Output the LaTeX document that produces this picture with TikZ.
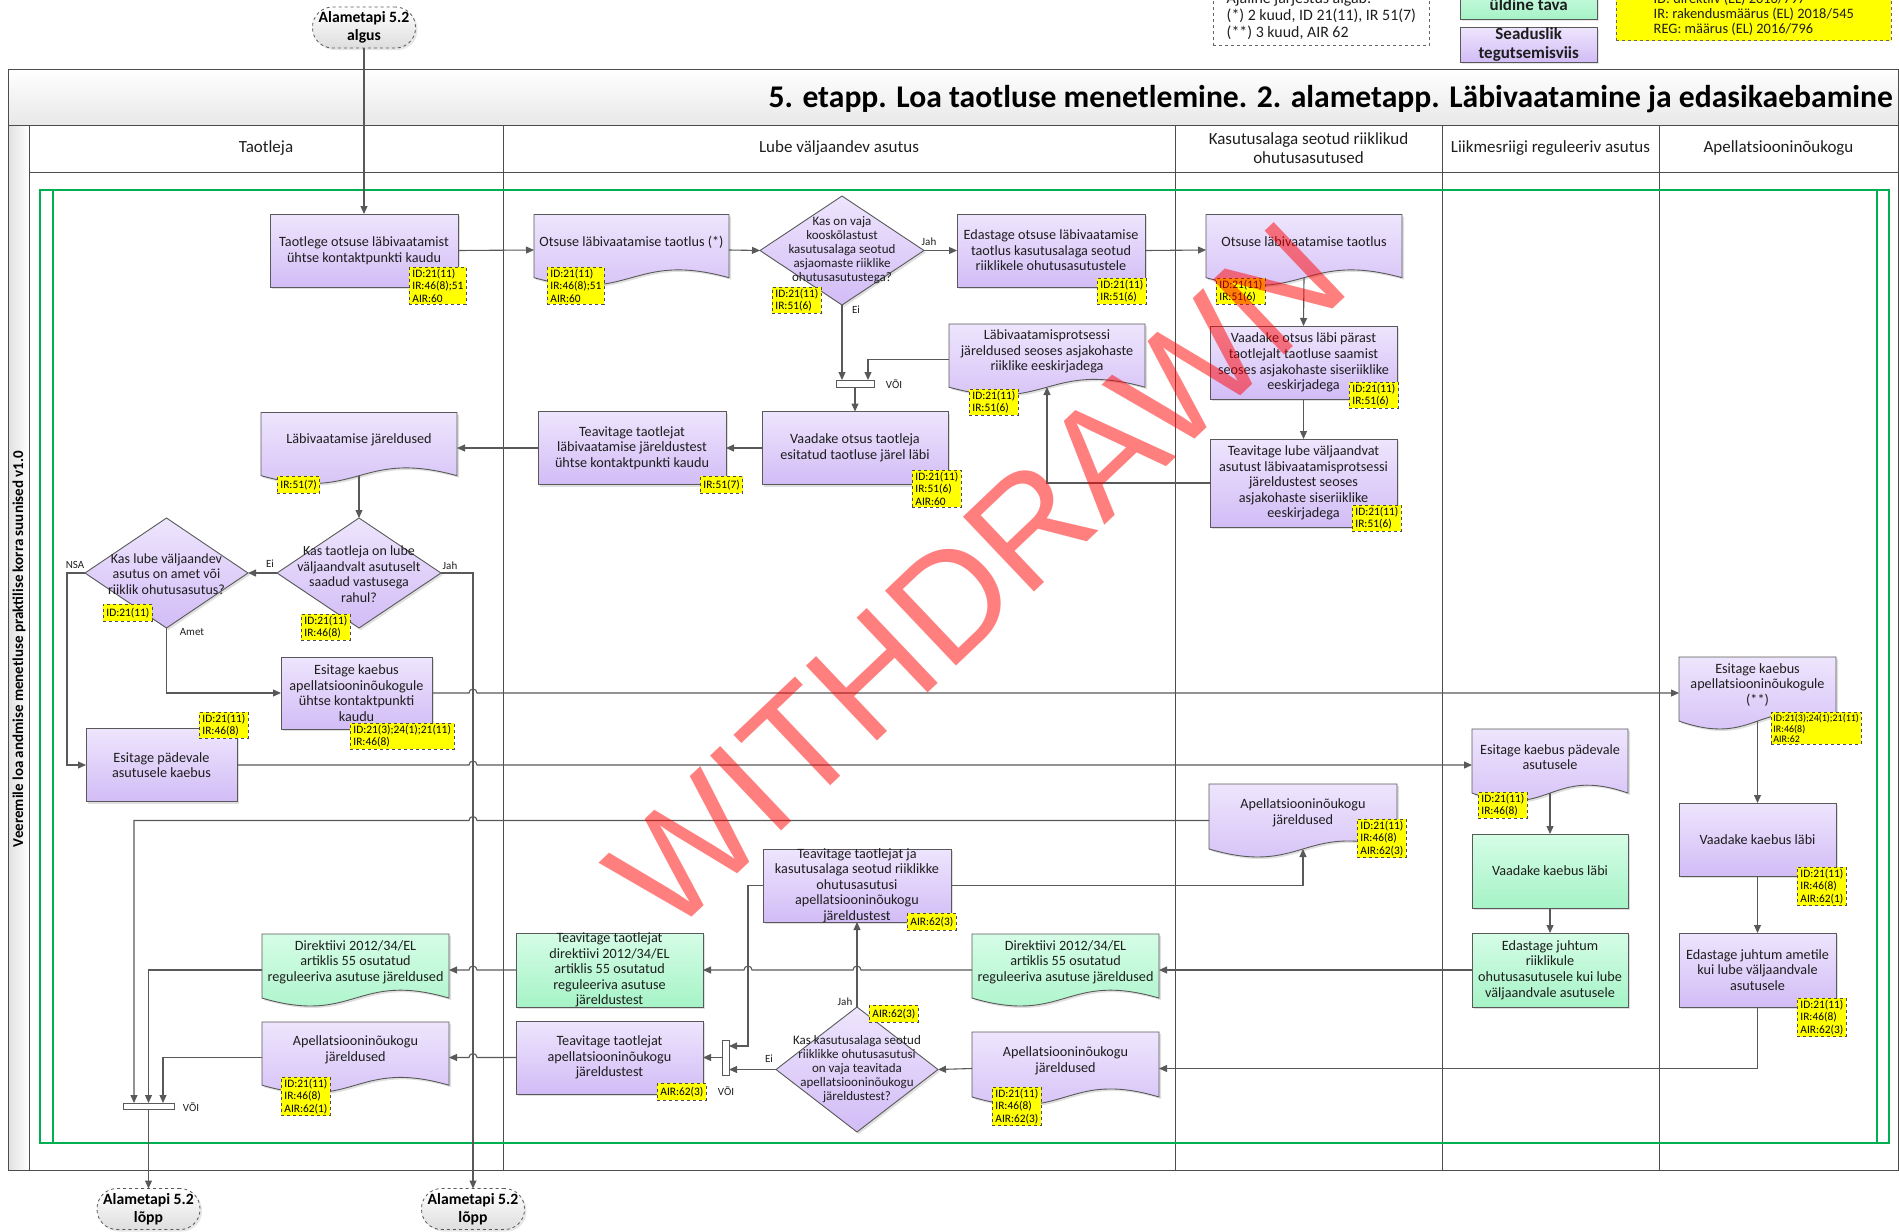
\documentclass[tikz,border=0pt]{standalone}
\usepackage{fontspec}
\setmainfont{Carlito}
\newfontfamily\wmfont{Liberation Sans}
\usetikzlibrary{arrows.meta,calc,shapes.geometric,shadows}
\pgfdeclarelayer{lanes}
\pgfdeclarelayer{shapes}
\pgfsetlayers{lanes,shapes,main}

\definecolor{linec}{HTML}{595959}
\definecolor{ptop}{HTML}{EEE5FD}
\definecolor{pbot}{HTML}{D2BCF6}
\definecolor{gtop}{HTML}{D5FDE6}
\definecolor{gbot}{HTML}{A6F3C7}
\definecolor{frameg}{HTML}{00B050}
\definecolor{tagy}{HTML}{FFFF00}
\definecolor{txt}{HTML}{1E1E1E}

\tikzset{
  base/.style={inner sep=1pt, outer sep=0pt, align=center, text=txt,
    font=\fontsize{14.2}{15.6}\selectfont},
  proc/.style={base, rectangle, inner xsep=0pt, inner ysep=-6pt, draw=linec, line width=0.9pt,
    top color=ptop, bottom color=pbot,
    drop shadow={shadow xshift=2pt, shadow yshift=-2pt, opacity=0.25}},
  procg/.style={proc, top color=gtop, bottom color=gbot},
  docarea/.style={inner sep=0pt, outer sep=0pt},
  docline/.style={draw=linec, line width=0.9pt,
    drop shadow={shadow xshift=2pt, shadow yshift=-2pt, opacity=0.25}},
  doctext/.style={base},
  decision/.style={diamond, draw=linec, line width=0.9pt, top color=ptop,
    bottom color=pbot, inner sep=0pt, outer sep=0pt,
    drop shadow={shadow xshift=2pt, shadow yshift=-2pt, opacity=0.25}},
  dectext/.style={base, font=\fontsize{14}{15.5}\selectfont},
  dectextsm/.style={base, font=\fontsize{13}{14}\selectfont},
  tag/.style={draw=black!70, dashed, line width=0.8pt, fill=tagy, text=black,
    font=\fontsize{11.4}{12.5}\selectfont, align=left, inner xsep=3pt,
    inner ysep=1.6pt, minimum height=17, anchor=north west},
  tagsm/.style={tag, font=\fontsize{10}{10.7}\selectfont, inner xsep=2pt},
  bar/.style={rectangle, draw=linec, fill=white, line width=0.9pt, inner sep=0pt, outer sep=0pt},
  lbl/.style={font=\fontsize{11}{12}\selectfont, inner sep=0pt, text=txt},
  term/.style={rectangle, rounded corners=20pt, draw=linec, dashed, line width=0.8pt,
    top color=white, bottom color=black!13, text=black,
    font=\bfseries\fontsize{15.7}{18}\selectfont, align=center,
    minimum width=103, minimum height=41, inner sep=0pt, outer sep=0pt,
    drop shadow={shadow xshift=2pt, shadow yshift=-2pt, opacity=0.2}},
  hdr/.style={font=\fontsize{17}{19}\selectfont, align=center, text=txt, inner sep=0pt},
  arr/.style={draw=linec, line width=1.1pt, -{Triangle[length=8pt,width=7pt]}},
  lane/.style={draw=black!70, line width=1pt},
  legbox/.style={draw=black!60, dashed, line width=0.7pt, align=left, text=txt,
    font=\fontsize{15.9}{17}\selectfont, inner xsep=4pt, inner ysep=3pt},
  legkey/.style={rectangle, draw=linec, minimum width=137, align=center, inner sep=0pt,
    font=\bfseries\fontsize{17}{19}\selectfont, text=txt,
    drop shadow={shadow xshift=2pt, shadow yshift=-2pt, opacity=0.2}},
}

% document symbol: name, x, y, width, height, text, colour prefix (p/g)
\newcommand\docnode[7]{%
  \node[docarea, minimum width=#4, minimum height=#5] (#1) at (#2,#3) {};
  \begin{pgfonlayer}{shapes}
  \path[docline, top color=#7top, bottom color=#7bot]
    let \p1=(#1.north west), \p2=(#1.south east), \n1={0.11*(\y1-\y2)} in
    (\x1,\y1) -- (\x2,\y1) -- (\x2,{\y2+\n1})
    .. controls ({0.5*(\x1+\x2)},{\y2+4.46*\n1}) and ({0.5*(\x1+\x2)},{\y2-2.46*\n1}) .. (\x1,{\y2+\n1}) -- cycle;
  \end{pgfonlayer}
  \node[doctext] (#1t) at ($(#1)+(0,-8)$) {#6};}

\begin{document}
\begin{tikzpicture}[x=1pt, y=-1pt]
\useasboundingbox (0,0) rectangle (1899,1232);

% ---------- swimlane frame ----------
\begin{pgfonlayer}{lanes}
  \path[top color=white, bottom color=black!9] (8,69) rectangle (1898,125);
  \path[left color=black!12, right color=white] (8,125) rectangle (29,1170);
  \draw[lane] (8,69) rectangle (1898,1170);
  \draw[lane] (8,125) -- (1898,125);
  \draw[lane] (29,125) -- (29,1170);
  \draw[lane] (29,172) -- (1898,172);
  \foreach \xx in {503,1175,1442,1659} \draw[lane] (\xx,125) -- (\xx,1170);
  \draw[frameg, line width=2.6pt] (40,190) rectangle (1889,1143);
  \draw[frameg, line width=2.6pt] (53,190) -- (53,1143);
  \draw[frameg, line width=2.6pt] (1877,190) -- (1877,1143);
\end{pgfonlayer}

\node[anchor=base east, font=\bfseries\fontsize{31.6}{34}\selectfont, inner sep=0pt] (title) at (1893,107)
  {5. etapp. Loa taotluse menetlemine. 2. alametapp. Läbivaatamine ja edasikaebamine};
\node[rotate=90, font=\bfseries\fontsize{15}{17}\selectfont, inner sep=0pt] (lanetitle) at (19,649)
  {Veeremile loa andmise menetluse praktilise korra suunised v1.0};

\node[hdr] (h1) at (266,148) {Taotleja};
\node[hdr] (h2) at (839,148) {Lube väljaandev asutus};
\node[hdr] (h3) at (1308.5,148.5) {Kasutusalaga seotud riiklikud\\ohutusasutused};
\node[hdr] (h4) at (1550.5,148) {Liikmesriigi reguleeriv asutus};
\node[hdr] (h5) at (1778.5,148) {Apellatsiooninõukogu};

% ---------- legend ----------
\node[legbox, anchor=south west, minimum width=216, inner ysep=5.5pt] (leg1) at (1213,46)
  {Ajaline järjestus algab:\\(*) 2 kuud, ID 21(11), IR 51(7)\\(**) 3 kuud, AIR 62};
\node[legkey, top color=gtop, bottom color=gbot, minimum height=36, anchor=south west] (leg2) at (1460,19) {\\üldine tava};
\node[legkey, top color=ptop, bottom color=pbot, minimum height=35, anchor=north west] (leg3) at (1460,27) {Seaduslik\\tegutsemisviis};
\node[legbox, fill=tagy, anchor=south west, minimum width=275, inner xsep=5pt, inner ysep=5.5pt,
  font=\fontsize{14.4}{15}\selectfont] (leg4) at (1616,41)
  {ID: direktiiv (EL) 2016/797\\IR: rakendusmäärus (EL) 2018/545\\REG: määrus (EL) 2016/796};

% ---------- terminals ----------
\node[term] (start) at (364,27.5) {Alametapi 5.2\\algus};
\node[term] (end1) at (148.5,1209) {Alametapi 5.2\\lõpp};
\node[term] (end2) at (473,1209) {Alametapi 5.2\\lõpp};

% ---------- Taotleja ----------
\node[proc, minimum width=188, minimum height=73] (b1) at (364,250.5) {Taotlege otsuse läbivaatamist\\ühtse kontaktpunkti kaudu};
\docnode{d2}{359}{448}{196}{71}{Läbivaatamise järeldused}{p}
\node[decision, minimum width=164, minimum height=110] (q3) at (359,573) {};
\node[dectext] (q3t) at (359,574) {Kas taotleja on lube\\väljaandvalt asutuselt\\saadud vastusega\\rahul?};
\node[decision, minimum width=163, minimum height=110] (q4) at (166.5,573) {};
\node[dectext] (q4t) at (166.5,574) {Kas lube väljaandev\\asutus on amet või\\riiklik ohutusasutus?};
\node[proc, minimum width=151, minimum height=72] (b5) at (356.5,693) {Esitage kaebus\\apellatsiooninõukogule\\ühtse kontaktpunkti\\kaudu};
\node[proc, minimum width=151, minimum height=73] (b6) at (161.5,765) {Esitage pädevale\\asutusele kaebus};
\docnode{d7}{355.5}{970}{187}{72}{Direktiivi 2012/34/EL\\artiklis 55 osutatud\\reguleeriva asutuse järeldused}{g}
\docnode{d8}{355.5}{1057.5}{187}{71}{Apellatsiooninõukogu\\järeldused}{p}
\node[bar, minimum width=51, minimum height=6] (v3) at (148.5,1106) {};

% ---------- Lube väljaandev asutus ----------
\docnode{d10}{631.5}{250}{195}{71}{Otsuse läbivaatamise taotlus (*)}{p}
\node[decision, minimum width=164, minimum height=109] (q11) at (842,250.5) {};
\node[dectextsm] (q11t) at (q11) {Kas on vaja\\kooskõlastust\\kasutusalaga seotud\\asjaomaste riiklike\\ohutusasutustega?};
\node[proc, minimum width=188, minimum height=73] (b13) at (1051,250.5) {Edastage otsuse läbivaatamise\\taotlus kasutusalaga seotud\\riiklikele ohutusasutustele};
\docnode{d14}{1047}{359.5}{196}{71}{Läbivaatamisprotsessi\\järeldused seoses asjakohaste\\riiklike eeskirjadega}{p}
\node[bar, minimum width=38, minimum height=7] (v1) at (855,383.5) {};
\node[proc, minimum width=186, minimum height=73] (b15) at (855,448) {Vaadake otsus taotleja\\esitatud taotluse järel läbi};
\node[proc, minimum width=188, minimum height=73] (b16) at (632,448) {Teavitage taotlejat\\läbivaatamise järeldustest\\ühtse kontaktpunkti kaudu};
\node[proc, minimum width=188, minimum height=73] (b17) at (857,885.5) {Teavitage taotlejat ja\\kasutusalaga seotud riiklikke\\ohutusasutusi\\apellatsiooninõukogu\\järeldustest};
\node[procg, minimum width=187, minimum height=74] (b21) at (609.5,970) {Teavitage taotlejat\\direktiivi 2012/34/EL\\artiklis 55 osutatud\\reguleeriva asutuse\\järeldustest};
\node[proc, minimum width=187, minimum height=73] (b20) at (609.5,1057.5) {Teavitage taotlejat\\apellatsiooninõukogu\\järeldustest};
\node[bar, minimum width=7, minimum height=35] (v2) at (725.5,1057.5) {};
\node[decision, minimum width=162, minimum height=125] (q19) at (857,1069.5) {};
\node[dectextsm] (q19t) at (q19) {Kas kasutusalaga seotud\\riiklikke ohutusasutusi\\on vaja teavitada\\apellatsiooninõukogu\\järeldustest?};
\docnode{d26}{1065.5}{970}{187}{72}{Direktiivi 2012/34/EL\\artiklis 55 osutatud\\reguleeriva asutuse järeldused}{g}
\docnode{d27}{1065.5}{1068.5}{187}{73}{Apellatsiooninõukogu\\järeldused}{p}

% ---------- Kasutusalaga seotud riiklikud ohutusasutused ----------
\docnode{d22}{1304}{250}{196}{71}{Otsuse läbivaatamise taotlus}{p}
\node[proc, minimum width=187, minimum height=73] (b23) at (1303.5,362.5) {Vaadake otsus läbi pärast\\taotlejalt taotluse saamist\\seoses asjakohaste siseriiklike\\eeskirjadega};
\node[proc, minimum width=187, minimum height=88] (b24) at (1303.5,483) {Teavitage lube väljaandvat\\asutust läbivaatamisprotsessi\\järeldustest seoses\\asjakohaste siseriiklike\\eeskirjadega};
\docnode{d25}{1303}{820.5}{188}{73}{Apellatsiooninõukogu\\järeldused}{p}

% ---------- Liikmesriigi reguleeriv asutus ----------
\docnode{d28}{1550}{765}{156}{72}{Esitage kaebus pädevale\\asutusele}{p}
\node[procg, minimum width=156, minimum height=74] (b29) at (1550,871) {Vaadake kaebus läbi};
\node[procg, minimum width=156, minimum height=74] (b30) at (1550,970) {Edastage juhtum\\riiklikule\\ohutusasutusele kui lube\\väljaandvale asutusele};

% ---------- Apellatsiooninõukogu ----------
\docnode{d31}{1757.5}{693}{157}{72}{Esitage kaebus\\apellatsiooninõukogule\\(**)}{p}
\node[proc, minimum width=157, minimum height=73] (b32) at (1757.5,839.5) {Vaadake kaebus läbi};
\node[proc, minimum width=157, minimum height=74] (b33) at (1757.5,970) {Edastage juhtum ametile\\kui lube väljaandvale\\asutusele};

% ---------- connectors ----------
\coordinate (jah3) at (473,573);
\coordinate (nsa4) at (67,573);
\coordinate (v3a) at ($(v3.north west)+(11,0)$);
\coordinate (v3c) at ($(v3.north east)+(-11,0)$);
\draw[arr] (start.south) -- (b1.north);
\draw[arr] (b1.east) -- (d10.west);
\draw[arr] (d10.east) -- (q11.west);
\draw[arr] (q11.east) -- (b13.west);
\draw[arr] (b13.east) -- (d22.west);
\draw[arr] (q11.south) -- (q11.south |- v1.north);
\draw[arr] (d14.west) -| ($(v1.north)+(13,0)$);
\draw[arr] (v1.south) -- (b15.north);
\draw[arr] ($(d22.south)+(0,-8)$) -- (b23.north);
\draw[arr] (b23.south) -- (b24.north);
\draw[arr] (b24.west) -| ($(d14.south)+(0,-8)$);
\draw[arr] (b15.west) -- (b16.east);
\draw[arr] (b16.west) -- (d2.east);
\draw[arr] ($(d2.south)+(0,-8)$) -- (q3.north);
\draw[arr] (q3.west) -- (q4.east);
\draw[arr] (q3.east) -- (jah3) -- (end2.north);
\draw[arr] (q4.west) -- (nsa4) |- (b6.west);
\draw[arr] (q4.south) |- (b5.west);
\draw[arr] (b5.east) -- (469,693) arc[start angle=180, end angle=360, radius=4] -- (d31.west);
\draw[arr] (b6.east) -- (469,765) arc[start angle=180, end angle=360, radius=4] -- (d28.west);
\draw[arr] ($(d31.south)+(0,-8)$) -- (b32.north);
\draw[arr] (b32.south) -- (b33.north);
\draw[arr] (b33.south) |- (d27.east);
\draw[arr] (d27.west) -- (q19.east);
\draw[arr] (q19.west) -- (q19.west -| v2.east);
\draw[arr] (q19.north) -- (b17.south);
\draw[arr] (b17.west) -- (748,885.5) |- ($(v2.east)+(0,-11.5)$);
\draw[arr] (v2.west) -- (b20.east);
\draw[arr] (b20.west) -- (477,1057.5) arc[start angle=0, end angle=-180, radius=4] -- (d8.east);
\draw[arr] (b17.east) -| ($(d25.south)+(0,-8)$);
\draw[arr] (d25.west) -- (477,820.5) arc[start angle=0, end angle=-180, radius=4]
  -- (v3a |- d25.west) -- (v3a);
\draw[arr] (d7.west) -| (v3.north);
\draw[arr] (d8.west) -| (v3c);
\draw[arr] (v3.south) -- (end1.north);
\draw[arr] (b21.west) -- (477,970) arc[start angle=0, end angle=-180, radius=4] -- (d7.east);
\draw[arr] (d26.west) -- (861,970) arc[start angle=0, end angle=-180, radius=4]
  -- (752,970) arc[start angle=0, end angle=-180, radius=4] -- (b21.east);
\draw[arr] (b30.west) -- (d26.east);
\draw[arr] ($(d28.south)+(0,-8)$) -- (b29.north);
\draw[arr] (b29.south) -- (b30.north);

% ---------- branch labels ----------
\node[lbl] (l1) at (929,242) {Jah};
\node[lbl] (l2) at (856,310) {Ei};
\node[lbl] (l3) at (894,384) {VÕI};
\node[lbl] (l4) at (270,564) {Ei};
\node[lbl] (l5) at (450,566) {Jah};
\node[lbl] (l6) at (75,565) {NSA};
\node[lbl] (l7) at (192,632) {Amet};
\node[lbl] (l8) at (191,1107) {VÕI};
\node[lbl] (l9) at (726,1091) {VÕI};
\node[lbl] (l10) at (769,1059) {Ei};
\node[lbl] (l11) at (845,1002) {Jah};

% ---------- legal references ----------
\node[tag] (g1) at (409,267) {ID:21(11)\\IR:46(8);51\\AIR:60};
\node[tag] (g2) at (547,267) {ID:21(11)\\IR:46(8);51\\AIR:60};
\node[tag] (g3) at (772,287) {ID:21(11)\\IR:51(6)};
\node[tag] (g4) at (1097,278) {ID:21(11)\\IR:51(6)};
\node[tag] (g5) at (1216,278) {ID:21(11)\\IR:51(6)};
\node[tag] (g6) at (969,389) {ID:21(11)\\IR:51(6)};
\node[tag] (g7) at (1349,382) {ID:21(11)\\IR:51(6)};
\node[tag] (g8) at (912,470) {ID:21(11)\\IR:51(6)\\AIR:60};
\node[tag] (g9) at (700,476) {IR:51(7)};
\node[tag] (g10) at (277,476) {IR:51(7)};
\node[tag] (g11) at (1352,505) {ID:21(11)\\IR:51(6)};
\node[tag] (g12) at (301,614) {ID:21(11)\\IR:46(8)};
\node[tag] (g13) at (103,604) {ID:21(11)};
\node[tag] (g14) at (199,712) {ID:21(11)\\IR:46(8)};
\node[tag] (g15) at (350,723) {ID:21(3);24(1);21(11)\\IR:46(8)};
\node[tagsm] (g16) at (1771,712) {ID:21(3);24(1);21(11)\\IR:46(8)\\AIR:62};
\node[tag] (g17) at (1478,792) {ID:21(11)\\IR:46(8)};
\node[tag] (g18) at (1357,819) {ID:21(11)\\IR:46(8)\\AIR:62(3)};
\node[tag] (g19) at (1797,867) {ID:21(11)\\IR:46(8)\\AIR:62(1)};
\node[tag] (g20) at (907,913) {AIR:62(3)};
\node[tag] (g21) at (1797,998) {ID:21(11)\\IR:46(8)\\AIR:62(3)};
\node[tag] (g22) at (869,1005) {AIR:62(3)};
\node[tag] (g23) at (281,1077) {ID:21(11)\\IR:46(8)\\AIR:62(1)};
\node[tag] (g24) at (657,1083) {AIR:62(3)};
\node[tag] (g25) at (992,1087) {ID:21(11)\\IR:46(8)\\AIR:62(3)};

% ---------- status stamp ----------
\node[rotate=43.5, text=red, text opacity=0.5, inner sep=0pt,
  font=\wmfont\fontsize{150}{150}\selectfont] (stamp) at (976,576) {WITHDRAWN};
\end{tikzpicture}
\end{document}
